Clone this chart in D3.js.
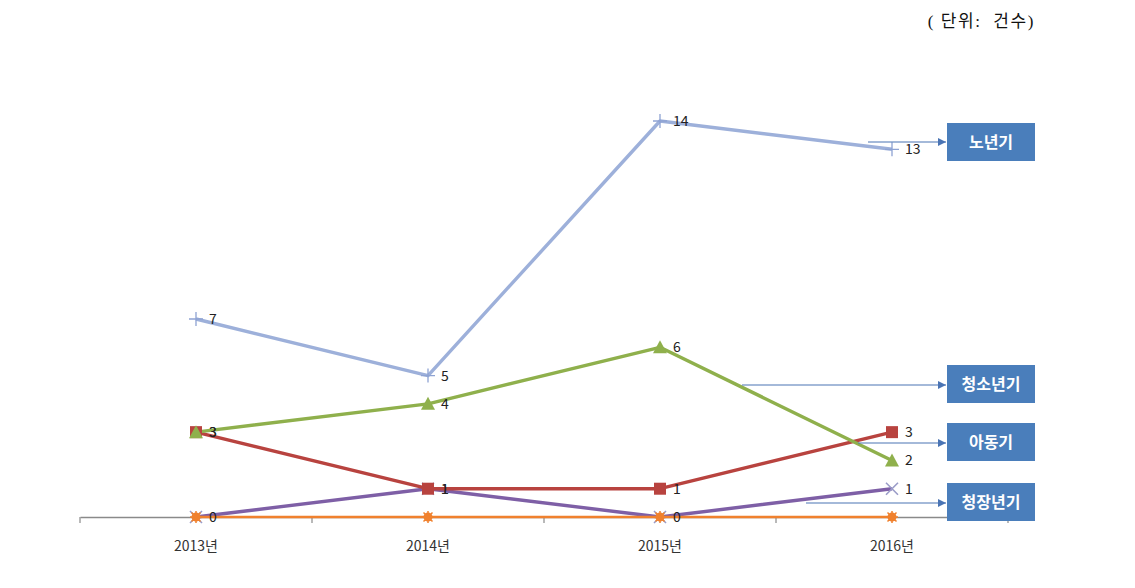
<!DOCTYPE html>
<html><head><meta charset="utf-8">
<script src="https://cdn.jsdelivr.net/npm/d3@7"></script>
<style>body{margin:0;background:#fff}svg{display:block}</style>
</head><body>
<svg id="c" width="1135" height="588"></svg>
<script>
const categories = ["2013년","2014년","2015년","2016년"];
const elderly = [7,5,14,13];      // 노년기
const youth = [3,4,6,2];          // 청소년기
const child = [3,1,1,3];          // 아동기
const adult = [0,1,0,1];          // 청장년기
const infant = [0,0,0,0];         // (orange, unlabeled)
const legendNames = ["노년기","청소년기","아동기","청장년기"];
const unitLabel = "( 단위:  건수)";

const series = [
  {name:"노년기", values:elderly, color:"#9DB0DA", marker:"plus", mcolor:"#8EA3D3", labels:true, w:3.4},
  {name:"청장년기", values:adult, color:"#7E5FA6", marker:"x", mcolor:"#9A9CC8", labels:true, w:3.4},
  {name:"아동기", values:child, color:"#B8433F", marker:"square", mcolor:"#B8433F", labels:true, w:3.4},
  {name:"청소년기", values:youth, color:"#8FB04C", marker:"triangle", mcolor:"#8FB04C", labels:true, w:3.4},
  {name:"기타", values:infant, color:"#F0812E", marker:"star", mcolor:"#F0812E", labels:false, w:2.6}
];

const svg = d3.select("#c");
const x = d3.scaleBand().domain(categories).range([80,1008]);
const cx = c => x(c) + x.bandwidth()/2;
const y = d3.scaleLinear().domain([0,14]).range([517,121]);

// unit label
svg.append("text").attr("x",1035).attr("y",27).attr("text-anchor","end")
  .attr("font-family","'Liberation Serif','Noto Sans CJK KR'").attr("font-size",17).attr("letter-spacing",1.6)
  .attr("xml:space","preserve").style("white-space","pre")
  .attr("fill","#111").text(unitLabel);

// axis
const axis = d3.axisBottom(x).tickSize(0).tickPadding(24);
const ag = svg.append("g").attr("transform",`translate(0,${y(0)})`).call(axis);
ag.select(".domain").attr("stroke","#8a8a8a").attr("stroke-width",1.3);
ag.selectAll("text").attr("font-family","'Noto Sans CJK KR'").attr("font-size",14).attr("fill","#333");
const bounds = categories.map(c=>x(c)).concat([x.range()[1]]);
ag.selectAll("line.tk").data(bounds).enter().append("line").attr("class","tk")
  .attr("x1",d=>d).attr("x2",d=>d).attr("y1",0).attr("y2",6).attr("stroke","#8a8a8a").attr("stroke-width",1.2);

// lines
const line = d3.line().x((d,i)=>cx(categories[i])).y(d=>y(d));
series.forEach(s=>{
  svg.append("path").attr("d",line(s.values)).attr("fill","none")
    .attr("stroke",s.color).attr("stroke-width",s.w).attr("stroke-linejoin","round");
});

function drawMarker(g, type, color, px, py){
  if(type==="plus"){
    g.append("path").attr("d",`M${px-7},${py}H${px+7}M${px},${py-7}V${py+7}`).attr("stroke",color).attr("stroke-width",1.3);
  } else if(type==="x"){
    g.append("path").attr("d",`M${px-6},${py-6}L${px+6},${py+6}M${px-6},${py+6}L${px+6},${py-6}`).attr("stroke",color).attr("stroke-width",1.6);
  } else if(type==="square"){
    g.append("rect").attr("x",px-6).attr("y",py-6).attr("width",12).attr("height",12).attr("fill",color);
  } else if(type==="triangle"){
    g.append("path").attr("d",`M${px},${py-7}L${px+7},${py+6}L${px-7},${py+6}Z`).attr("fill",color);
  } else if(type==="star"){
    g.append("circle").attr("cx",px).attr("cy",py).attr("r",4.5).attr("fill",color);
    g.append("path").attr("d",`M${px-6},${py}H${px+6}M${px},${py-6}V${py+6}M${px-4.5},${py-4.5}L${px+4.5},${py+4.5}M${px-4.5},${py+4.5}L${px+4.5},${py-4.5}`).attr("stroke",color).attr("stroke-width",1.5);
  }
}
series.forEach(s=>{
  const g = svg.append("g");
  s.values.forEach((v,i)=>drawMarker(g,s.marker,s.mcolor,cx(categories[i]),y(v)));
});
// data labels
series.forEach(s=>{
  if(!s.labels) return;
  svg.append("g").selectAll("text").data(s.values).enter().append("text")
    .attr("x",(d,i)=>cx(categories[i])+13).attr("y",d=>y(d)+5)
    .attr("font-family","'Noto Sans CJK KR'").attr("font-size",14).attr("fill","#222").text(d=>d);
});

// legend callouts
const defs = svg.append("defs");
defs.append("marker").attr("id","ah").attr("viewBox","0 0 10 10").attr("refX",10).attr("refY",5)
  .attr("markerWidth",8).attr("markerHeight",8).attr("markerUnits","userSpaceOnUse").attr("orient","auto")
  .append("path").attr("d","M0,0L10,5L0,10Z").attr("fill","#4A74B4");
const boxTop = [123,365,423,483];
const arrowStart = [868,742,858,806];
const arrowY = [142,385,443,503];
legendNames.forEach((n,i)=>{
  svg.append("line").attr("x1",arrowStart[i]).attr("x2",946).attr("y1",arrowY[i]).attr("y2",arrowY[i])
    .attr("stroke","#4A74B4").attr("stroke-width",1.2).attr("marker-end","url(#ah)");
  svg.append("rect").attr("x",947).attr("y",boxTop[i]).attr("width",88).attr("height",38).attr("fill","#4A7EBB");
  svg.append("text").attr("x",991).attr("y",boxTop[i]+19).attr("dy","0.35em").attr("text-anchor","middle")
    .attr("font-family","'Noto Sans CJK KR'").attr("font-weight","bold").attr("font-size",16).attr("fill","#fff").text(n);
});
</script>
</body></html>
